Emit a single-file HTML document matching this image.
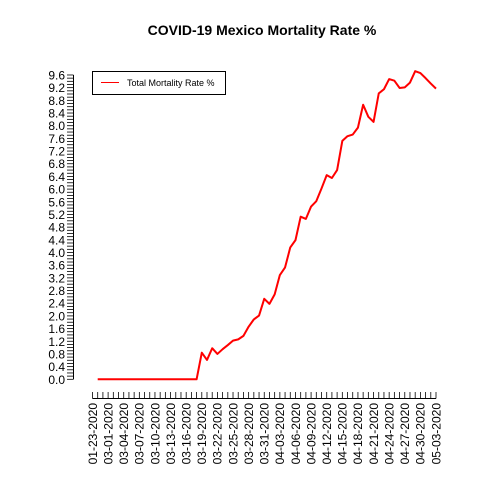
<!DOCTYPE html>
<html><head><meta charset="utf-8"><style>
body{margin:0;background:#fff}
svg{display:block;font-family:"Liberation Sans",sans-serif}
</style></head><body>
<svg id="chart" width="480" height="480">
<text x="262" y="35" text-anchor="middle" font-size="14" font-weight="bold">COVID-19 Mexico Mortality Rate %</text>
<g id="yaxis"></g>
<g id="xaxis"></g>
<g id="series"></g>
<g>
<rect x="92.5" y="71.5" width="133" height="23" fill="#fff" stroke="#000" stroke-width="1"/>
<line x1="101" y1="82.5" x2="119" y2="82.5" stroke="#ff0000" stroke-width="1"/>
<text x="127" y="86" font-size="9">Total Mortality Rate %</text>
</g>
</svg>
<script>
const values = [null,0,0,0,0,0,0,0,0,0,0,0,0,0,0,0,0,0,0,0,0,0.84,0.61,0.98,0.80,0.95,1.08,1.22,1.26,1.37,1.66,1.89,2.01,2.54,2.38,2.68,3.29,3.53,4.16,4.39,5.13,5.06,5.45,5.62,6.02,6.44,6.35,6.60,7.52,7.67,7.72,7.94,8.66,8.28,8.12,9.02,9.15,9.47,9.42,9.19,9.21,9.36,9.72,9.66,9.50,9.33,9.17];
const firstDates = ["01-23-2020","02-28-2020","02-29-2020"];
const yTicks = [0,0.4,0.8,1.2,1.6,2.0,2.4,2.8,3.2,3.6,4.0,4.4,4.8,5.2,5.6,6.0,6.4,6.8,7.2,7.6,8.0,8.4,8.8,9.2,9.6];

const NS="http://www.w3.org/2000/svg";
function mk(tag,attrs,parent){const e=document.createElementNS(NS,tag);for(const k in attrs)e.setAttribute(k,attrs[k]);parent.appendChild(e);return e;}
const categories=[];
for(let i=0;i<values.length;i++){
  if(i<firstDates.length)categories.push(firstDates[i]);
  else{const d=new Date(2020,2,1+(i-3));categories.push(String(d.getMonth()+1).padStart(2,'0')+'-'+String(d.getDate()).padStart(2,'0')+'-2020');}
}
const x0=92.5,x1=436,n=categories.length;
const xs=i=>x0+(x1-x0)*i/(n-1);
const ys=v=>379.3-v*31.7;
const yg=document.getElementById('yaxis'),xg=document.getElementById('xaxis'),sg=document.getElementById('series');
// y axis
let l=mk('line',{x1:73.5,x2:73.5,y1:ys(0),y2:ys(9.6),stroke:'#000'},yg);


for(let k=0;k<=96;k++){
  const y=ys(k/10);
  const t=mk('line',{x1:67,x2:73.5,y1:y,y2:y,stroke:'#000','stroke-width':0.8},yg);
  
  
}
yTicks.forEach(v=>{
  const t=mk('text',{x:65,y:ys(v)+4.5,'text-anchor':'end','font-size':12},yg);
  t.textContent=v.toFixed(1);
  
  
});
// x axis
l=mk('line',{x1:xs(0),x2:xs(n-1),y1:398.5,y2:398.5,stroke:'#000'},xg);


categories.forEach((c,i)=>{
  const x=xs(i);
  const t=mk('line',{x1:x,x2:x,y1:392,y2:398.5,stroke:'#000','stroke-width':0.8},xg);
  
  
  if(i%3===0){
    const tx=mk('text',{x:0,y:0,'text-anchor':'end','font-size':12,transform:`translate(${x+4.3},403) rotate(-90)`},xg);
    tx.textContent=c;
    
    
  }
});
// line
let d='';
values.forEach((v,i)=>{if(v===null)return;d+=(d?'L':'M')+xs(i).toFixed(2)+','+ys(v).toFixed(2);});
const p=mk('path',{d:d,fill:'none',stroke:'#ff0000','stroke-width':2,'stroke-linejoin':'round'},sg);


</script>
</body></html>
